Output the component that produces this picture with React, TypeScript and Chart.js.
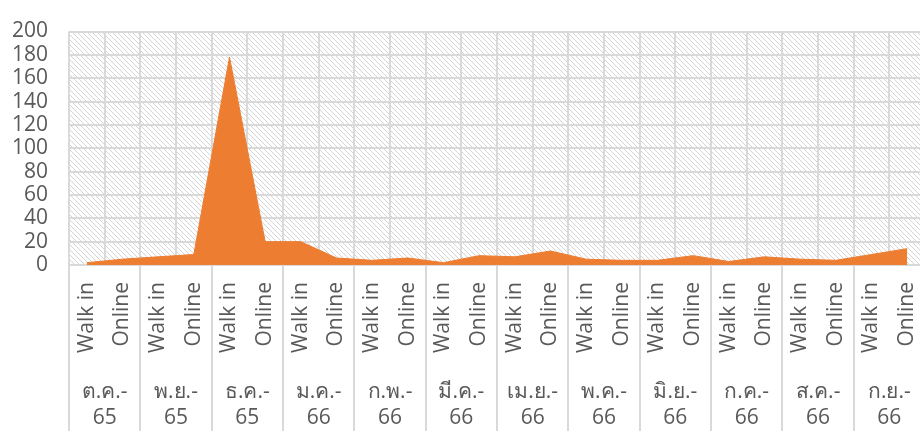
import { useEffect, useRef } from 'react';
import { Chart, registerables } from 'chart.js';

Chart.register(...registerables);

const months = ['ต.ค.-', 'พ.ย.-', 'ธ.ค.-', 'ม.ค.-', 'ก.พ.-', 'มี.ค.-', 'เม.ย.-', 'พ.ค.-', 'มิ.ย.-', 'ก.ค.-', 'ส.ค.-', 'ก.ย.-'];
const years = ['65', '65', '65', '66', '66', '66', '66', '66', '66', '66', '66', '66'];
const channels = ['Walk in', 'Online'];
const walkIn = [2, 7, 178, 20, 4, 2, 7, 5, 4, 3, 5, 9];
const online = [5, 9, 20, 6, 6, 8, 12, 4, 8, 7, 4, 14];
const yMin = 0;
const yMax = 200;
const yStep = 20;

const labels = months.flatMap(() => channels);
const values = walkIn.flatMap((w, i) => [w, online[i]]);

const FONT = '"Open Sans", "Noto Sans", sans-serif';
const GRID = '#d9d9d9';
const TEXT = '#595959';

const hatchPlugin = {
  id: 'hatch',
  beforeDraw(chart: any) {
    const { ctx, chartArea: a } = chart;
    const n = 5;
    const tile = document.createElement('canvas');
    tile.width = n;
    tile.height = n;
    const t = tile.getContext('2d')!;
    t.fillStyle = '#ffffff';
    t.fillRect(0, 0, n, n);
    t.strokeStyle = '#d4d4d4';
    t.lineWidth = 1;
    t.beginPath();
    for (const k of [-n, 0, n]) {
      t.moveTo(k, 0);
      t.lineTo(k + n, n);
    }
    t.stroke();
    const pat = ctx.createPattern(tile, 'repeat');
    ctx.save();
    ctx.fillStyle = pat;
    ctx.fillRect(a.left, a.top, a.right - a.left, a.bottom - a.top);
    ctx.restore();
  },
};

export default function App() {
  const ref = useRef<HTMLCanvasElement | null>(null);
  useEffect(() => {
    if (!ref.current) return;
    const chart = new Chart(ref.current, {
      type: 'line',
      data: {
        labels,
        datasets: [
          {
            data: values,
            fill: 'origin',
            backgroundColor: '#ED7D31',
            borderColor: '#ED7D31',
            borderWidth: 1,
            pointRadius: 0,
            tension: 0,
          },
        ],
      },
      plugins: [hatchPlugin],
      options: {
        animation: false,
        responsive: false,
        devicePixelRatio: 1,
        layout: { padding: { top: 22, right: 10, left: 0, bottom: 0 } },
        plugins: { legend: { display: false }, tooltip: { enabled: false } },
        scales: {
          x: {
            type: 'category',
            offset: true,
            weight: 0,
            grid: {
              offset: true,
              color: GRID,
              lineWidth: 2,
              drawTicks: true,
              tickLength: 175,
              tickWidth: 2,
              tickColor: (c: any) => (c.index !== undefined && c.index % 2 === 0 ? GRID : 'rgba(0,0,0,0)'),
            },
            border: { display: true, color: GRID, width: 2 },
            ticks: {
              autoSkip: false,
              minRotation: 90,
              maxRotation: 90,
              padding: 17 - 175,
              color: TEXT,
              font: { family: FONT, size: 21 },
            },
            afterFit: (s: any) => {
              s.height = 114;
            },
          },
          x2: {
            type: 'linear',
            position: 'bottom',
            weight: 1,
            min: -0.5,
            max: 23.5,
            grid: { display: false, drawTicks: false },
            border: { display: false },
            afterBuildTicks: (s: any) => {
              s.ticks = months.map((_, i) => ({ value: 2 * i + 0.5 }));
            },
            ticks: {
              autoSkip: false,
              maxRotation: 0,
              minRotation: 0,
              padding: 0,
              color: TEXT,
              font: { family: FONT, size: 21, lineHeight: 1.25 },
              callback: (_v: any, i: number) => [months[i], years[i]],
            },
            afterFit: (s: any) => {
              s.height = 52;
            },
          },
          y: {
            min: yMin,
            max: yMax,
            grid: { color: GRID, lineWidth: 2, drawTicks: false },
            border: { display: false },
            ticks: {
              stepSize: yStep,
              autoSkip: false,
              padding: 21,
              color: TEXT,
              font: { family: FONT, size: 21, lineHeight: 1 },
            },
            afterFit: (s: any) => {
              s.width = 69;
            },
          },
        },
      },
    } as any);
    return () => chart.destroy();
  }, []);
  return (
    <div style={{ position: 'absolute', left: 0, top: 0, width: 920, height: 431, overflow: 'hidden', background: '#fff' }}>
      <canvas ref={ref} width={935} height={431} style={{ display: 'block' }} />
    </div>
  );
}
